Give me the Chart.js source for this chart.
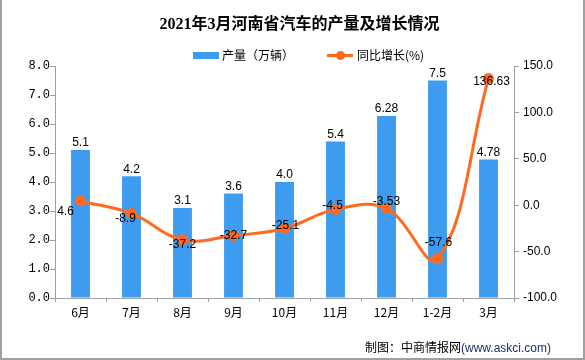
<!DOCTYPE html>
<html>
<head>
<meta charset="utf-8">
<script src="https://cdn.jsdelivr.net/npm/chart.js@4"></script>
<style>
  html, body { margin: 0; padding: 0; background: #fff; }
  #wrap { position: relative; width: 585px; height: 360px; overflow: hidden; background: #fff; }
  #c { position: absolute; left: 0; top: 0; }
  #frame { position: absolute; left: 0; top: 0; width: 585px; height: 360px; box-sizing: border-box;
           border-left: 2px solid #a0a0a0; border-right: 2px solid #a0a0a0; border-bottom: 2px solid #a0a0a0; pointer-events: none; }
  #title { position: absolute; left: 0; width: 599px; top: 14px; text-align: center;
           font: bold 16px "Liberation Serif", "Noto Sans CJK SC", serif; color: #000; line-height: 20px; white-space: nowrap; }
  .lg { position: absolute; font: 12px "Noto Sans CJK SC", sans-serif; color: #000; line-height: 14px; top: 48px; white-space: nowrap; }
  #lgBox { position: absolute; left: 193px; top: 52px; width: 26px; height: 7px; background: #3D9BF0; }
  #lgLine { position: absolute; left: 327px; top: 54px; width: 26px; height: 3px; background: #FF6A1F; }
  #lgDot { position: absolute; left: 336px; top: 51px; width: 9px; height: 9px; border-radius: 50%; background: #FF6A1F; }
  #footer { position: absolute; left: 365px; top: 339px; font: 12px "Noto Sans CJK SC", sans-serif; color: #000; line-height: 16px; white-space: nowrap; }
  #footer span { font-family: "Liberation Sans", sans-serif; color: #1c2f6b; }
</style>
</head>
<body>
<div id="wrap">
  <canvas id="c" width="585" height="360"></canvas>
  <div id="title">2021年3月河南省汽车的产量及增长情况</div>
  <div id="lgBox"></div>
  <div class="lg" style="left:222px;">产量（万辆）</div>
  <div id="lgLine"></div><div id="lgDot"></div>
  <div class="lg" style="left:357px;">同比增长(%)</div>
  <div id="footer">制图：中商情报网<span>(www.askci.com)</span></div>
  <div id="frame"></div>
</div>
<script>
// ---- data ----
const categories = ["6月", "7月", "8月", "9月", "10月", "11月", "12月", "1-2月", "3月"];
const production = [5.1, 4.2, 3.1, 3.6, 4.0, 5.4, 6.28, 7.5, 4.78];
const growth = [4.6, -8.9, -37.2, -32.7, -25.1, -4.5, -3.53, -57.6, 136.63];
const leftTicks = [0, 1, 2, 3, 4, 5, 6, 7, 8];
const rightTicks = [-100, -50, 0, 50, 100, 150];

// ---- styling (label offsets relative to each line point) ----
const growthLabelOffsets = [[-15, 11], [-6, 5], [0, 5], [0, 0], [1, -3], [-3, -4], [0, -7], [1, -16], [3, 3]];
const BAR_COLOR = '#3D9BF0';
const LINE_COLOR = '#FF6A1F';
const AXIS_COLOR = '#a0a0a0';

function fmt(v) { return Number.isInteger(v) ? v.toFixed(1) : String(v); }

const labelPlugin = {
  id: 'valueLabels',
  afterDatasetsDraw(chart) {
    const ctx = chart.ctx;
    ctx.save();
    ctx.font = '12px "Liberation Sans", sans-serif';
    ctx.fillStyle = '#000';
    ctx.textAlign = 'center';
    ctx.textBaseline = 'middle';
    const barMeta = chart.getDatasetMeta(0);
    barMeta.data.forEach((el, i) => {
      ctx.fillText(fmt(production[i]), el.x, el.y - 7);
    });
    const lineMeta = chart.getDatasetMeta(1);
    lineMeta.data.forEach((el, i) => {
      const o = growthLabelOffsets[i];
      ctx.fillText(fmt(growth[i]), el.x + o[0], el.y + o[1]);
    });
    ctx.restore();
  }
};

new Chart(document.getElementById('c'), {
  data: {
    labels: categories,
    datasets: [
      {
        type: 'bar', label: '产量（万辆）', data: production, yAxisID: 'y',
        backgroundColor: BAR_COLOR, borderWidth: 0,
        barPercentage: 0.37, categoryPercentage: 1.0, order: 2
      },
      {
        type: 'line', label: '同比增长(%)', data: growth, yAxisID: 'y1',
        borderColor: LINE_COLOR, backgroundColor: LINE_COLOR, borderWidth: 3,
        pointRadius: 4, pointBackgroundColor: LINE_COLOR, pointBorderColor: LINE_COLOR,
        tension: 0.4, fill: false, order: 1
      }
    ]
  },
  options: {
    responsive: false,
    animation: false,
    devicePixelRatio: 1,
    layout: { padding: { top: 66, left: 0, right: 0, bottom: 0 } },
    plugins: { legend: { display: false }, title: { display: false }, tooltip: { enabled: false } },
    scales: {
      x: {
        offset: true,
        grid: { display: true, drawOnChartArea: false, tickLength: 4, color: AXIS_COLOR, offset: true },
        border: { color: AXIS_COLOR },
        ticks: { color: '#000', padding: 3, font: { family: '"Noto Sans CJK SC", sans-serif', size: 12 }, maxRotation: 0, autoSkip: false },
        afterFit(s) { s.height = 62; }
      },
      y: {
        position: 'left', min: 0, max: 8,
        afterBuildTicks(s) { s.ticks = leftTicks.map(v => ({ value: v })); },
        grid: { display: true, drawOnChartArea: false, tickLength: 5, color: AXIS_COLOR },
        border: { color: AXIS_COLOR },
        ticks: { color: '#000', padding: 0, font: { family: '"Liberation Mono", monospace', size: 12 }, callback: v => Number(v).toFixed(1) },
        afterFit(s) { s.width = 55; }
      },
      y1: {
        position: 'right', min: -100, max: 150,
        afterBuildTicks(s) { s.ticks = rightTicks.map(v => ({ value: v })); },
        grid: { display: true, drawOnChartArea: false, tickLength: 5, color: AXIS_COLOR },
        border: { color: AXIS_COLOR },
        ticks: { color: '#000', padding: 4, font: { family: '"Liberation Sans", sans-serif', size: 12 }, callback: v => Number(v).toFixed(1) },
        afterFit(s) { s.width = 71; }
      }
    }
  },
  plugins: [labelPlugin]
});
</script>
</body>
</html>
